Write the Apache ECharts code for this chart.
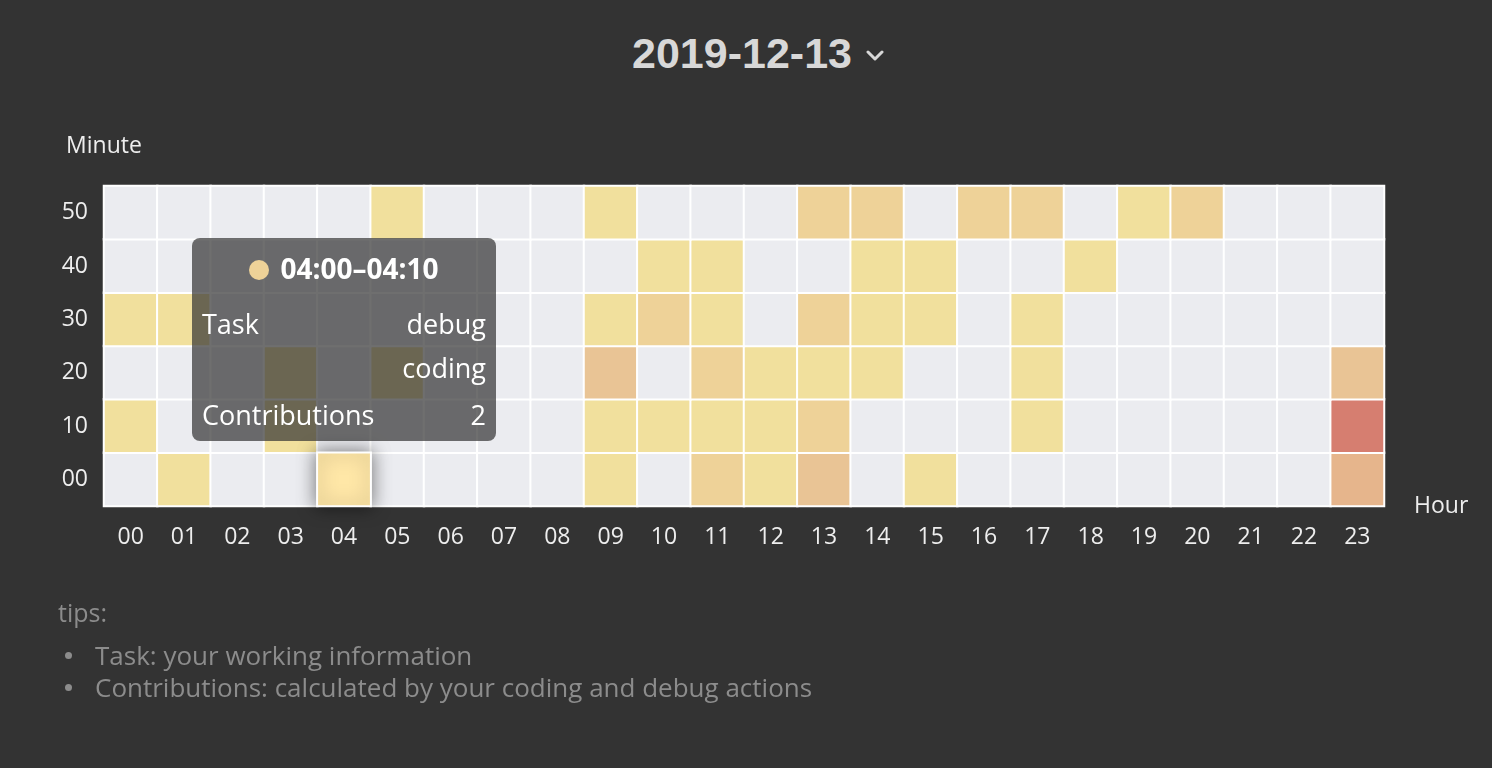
<!DOCTYPE html>
<html>
<head>
<meta charset="utf-8">
<script src="https://cdn.jsdelivr.net/npm/echarts@6/dist/echarts.min.js"></script>
<style>
  html, body { margin: 0; padding: 0; background: #333333; width: 1492px; height: 768px; overflow: hidden; font-family: "Open Sans", "Liberation Sans", Arial, sans-serif; }
  #chart { position: absolute; left: 0; top: 0; width: 1492px; height: 768px; }
  #title { position: absolute; left: 632px; top: 32px; font-family: "Liberation Sans", Arial, sans-serif; font-size: 43px; line-height: 43px; font-weight: bold; color: #d8d8d8; white-space: nowrap; }
  #chev { position: absolute; left: 866px; top: 50px; }
  #tips { position: absolute; left: 58px; top: 596px; color: #8c8c8c; font-size: 25px; line-height: 32px; }
  #tips ul { margin: 11px 0 0 0; padding-left: 37px; list-style: none; font-size: 26px; }
  #tips li { position: relative; }
  #tips li::before { content: ""; position: absolute; left: -30px; top: 13px; width: 7px; height: 7px; border-radius: 50%; background: #8c8c8c; }
</style>
</head>
<body>
<div id="title">2019-12-13</div>
<svg id="chev" width="18" height="12" viewBox="0 0 18 12"><polyline points="2,2 9,9 16,2" fill="none" stroke="#d8d8d8" stroke-width="3" stroke-linecap="round" stroke-linejoin="round"/></svg>
<div id="chart"></div>
<div id="tips">
  <div>tips:</div>
  <ul>
    <li>Task: your working information</li>
    <li>Contributions: calculated by your coding and debug actions</li>
  </ul>
</div>
<script>
// ---- data ----
const hours = ['00','01','02','03','04','05','06','07','08','09','10','11','12','13','14','15','16','17','18','19','20','21','22','23'];
const minutes = ['00','10','20','30','40','50'];
//                 00 01 02 03 04 05 06 07 08 09 10 11 12 13 14 15 16 17 18 19 20 21 22 23
const minute00 = [0, 1, 0, 0, 2, 0, 0, 0, 0, 1, 0, 2, 1, 3, 0, 1, 0, 0, 0, 0, 0, 0, 0, 4];
const minute10 = [1, 0, 0, 1, 0, 0, 0, 0, 0, 1, 1, 1, 1, 2, 0, 0, 0, 1, 0, 0, 0, 0, 0, 6];
const minute20 = [0, 0, 0, 1, 0, 1, 0, 0, 0, 3, 0, 2, 1, 1, 1, 0, 0, 1, 0, 0, 0, 0, 0, 3];
const minute30 = [1, 1, 0, 0, 0, 0, 0, 0, 0, 1, 2, 1, 0, 2, 1, 1, 0, 1, 0, 0, 0, 0, 0, 0];
const minute40 = [0, 0, 0, 0, 0, 0, 0, 0, 0, 0, 1, 1, 0, 0, 1, 1, 0, 0, 1, 0, 0, 0, 0, 0];
const minute50 = [0, 0, 0, 0, 0, 1, 0, 0, 0, 1, 0, 0, 0, 2, 2, 0, 2, 2, 0, 1, 2, 0, 0, 0];
const rows = [minute00, minute10, minute20, minute30, minute40, minute50];
// tasks recorded for a cell, keyed "hour-minuteIndex"
const taskKeys = ['4-0'];
const taskLists = [['debug', 'coding']];
const shownHour = 4, shownMinute = 0;

// ---- build ----
const data = [];
rows.forEach(function (row, y) {
  row.forEach(function (v, x) { data.push([x, y, v]); });
});

const chart = echarts.init(document.getElementById('chart'));
const font = '"Open Sans", "Liberation Sans", Arial, sans-serif';

function pad2(n) { return (n < 10 ? '0' : '') + n; }

const option = {
  backgroundColor: 'transparent',
  textStyle: { fontFamily: font },
  animation: false,
  grid: { left: 104, right: 108, top: 186, bottom: 262 },
  tooltip: {
    trigger: 'item',
    triggerOn: 'none',
    alwaysShowContent: true,
    transitionDuration: 0,
    backgroundColor: 'rgba(50,50,50,0.7)',
    borderWidth: 0,
    padding: [8, 10, 4, 10],
    extraCssText: 'border-radius:8px;box-shadow:none;width:284px;',
    textStyle: { color: '#fff', fontFamily: font, fontSize: 27 },
    position: function (point, params, dom, rect, size) {
      return [point[0] - size.contentSize[0] / 2, point[1] - size.contentSize[1] - 38];
    },
    formatter: function (p) {
      const h = hours[p.value[0]];
      const m = parseInt(minutes[p.value[1]], 10);
      const key = p.value[0] + '-' + p.value[1];
      const ti = taskKeys.indexOf(key);
      const tasks = ti >= 0 ? taskLists[ti] : [];
      const marker = '<span style="display:inline-block;width:20px;height:20px;border-radius:50%;background:' + p.color + ';margin-right:11px;vertical-align:-1px;"></span>';
      return '<div style="text-align:center;font-weight:bold;font-size:28px;line-height:44px;">' + marker +
        h + ':' + pad2(m) + '–' + h + ':' + pad2(m + 10) + '</div>' +
        '<div style="display:flex;justify-content:space-between;margin-top:12px;line-height:44px;"><span>Task</span><span style="text-align:right">' + tasks.join('<br>') + '</span></div>' +
        '<div style="display:flex;justify-content:space-between;margin-top:3px;line-height:44px;"><span>Contributions</span><span>' + p.value[2] + '</span></div>';
    }
  },
  xAxis: {
    type: 'category',
    data: hours,
    name: 'Hour',
    nameGap: 30,
    nameTextStyle: { color: '#eeeeee', fontSize: 23, fontFamily: font, padding: [4, 0, 0, 0] },
    axisLine: { show: true, lineStyle: { color: '#cccccc', width: 1 } },
    axisTick: { show: false },
    axisLabel: { color: '#eeeeee', fontSize: 23, margin: 20, fontFamily: font },
    splitLine: { show: false }
  },
  yAxis: {
    type: 'category',
    data: minutes,
    name: 'Minute',
    nameGap: 28,
    nameTextStyle: { color: '#eeeeee', fontSize: 23, fontFamily: font },
    axisLine: { show: false },
    axisTick: { show: false },
    axisLabel: { color: '#eeeeee', fontSize: 23, margin: 16, fontFamily: font, padding: [4, 0, 0, 0] },
    splitLine: { show: false }
  },
  visualMap: {
    type: 'piecewise',
    show: false,
    dimension: 2,
    pieces: [
      { value: 0, color: '#ebecf0' },
      { value: 1, color: '#f1e09d' },
      { value: 2, color: '#eed298' },
      { value: 3, color: '#e9c495' },
      { value: 4, color: '#e6b58c' },
      { min: 5, color: '#d67e70' }
    ]
  },
  series: [{
    type: 'heatmap',
    data: data,
    itemStyle: { borderColor: '#ffffff', borderWidth: 2 },
    emphasis: {
      itemStyle: { shadowBlur: 18, shadowColor: 'rgba(0,0,0,0.5)' }
    }
  }]
};
chart.setOption(option);

const idx = shownMinute * hours.length + shownHour;
chart.dispatchAction({ type: 'highlight', seriesIndex: 0, dataIndex: idx });
chart.dispatchAction({ type: 'showTip', seriesIndex: 0, dataIndex: idx });
</script>
</body>
</html>
